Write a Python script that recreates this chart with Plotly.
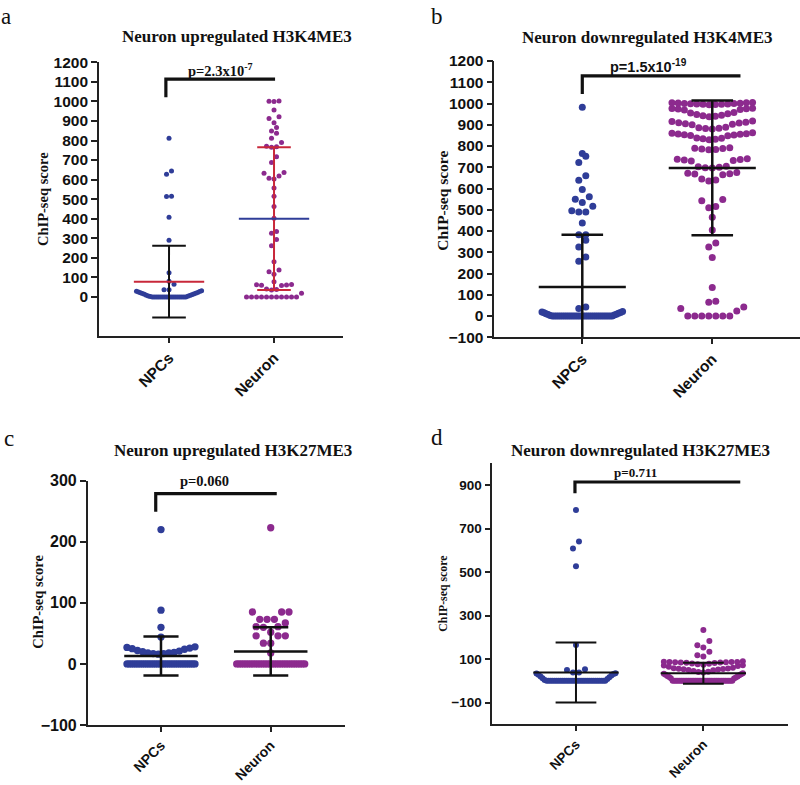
import plotly.graph_objects as go

FIG_W, FIG_H = 800, 785

# ---------------- data ----------------
categories = ["NPCs", "Neuron"]

a_npcs = [811, 644, 627, 515, 513, 407, 290, 124, 80, 65, 36, 36,
          0, 0, 0, 0, 0, 0, 0, 0, 0, 0, 0, 0, 0, 0, 0, 0, 0, 0,
          2, 3, 5, 7, 9, 11, 13, 15, 17, 19, 21, 23, 25, 27, 29, 31]
a_neuron = [1002, 1001, 1000, 956, 921, 913, 891, 866, 849, 837, 811, 790,
            770, 768, 766, 717, 688, 636, 632, 619, 607, 603, 557, 515, 463,
            402, 335, 326, 294, 262, 180, 138, 129, 116, 78, 64, 62, 61, 60,
            58, 40, 38, 35, 19, 0, 0, 0, 0, 0, 0, 0, 0, 0, 0, 0]
a_means = [78, 400]
a_sds = [184, 365]

b_npcs = [982, 765, 752, 722, 660, 639, 595, 561, 550, 534, 517, 495, 490,
          490, 438, 383, 383, 357, 325, 278, 258, 42, 36,
          0, 0, 0, 0, 0, 0, 0, 0, 0, 0, 0, 0, 0, 0, 0, 0, 0, 0, 0, 0,
          0, 0, 0, 0, 0, 0, 0, 0, 0, 0,
          3, 5, 7, 9, 11, 13, 15, 17, 19, 21]
b_neuron = [1005, 1004, 1003, 1002, 1001, 1000, 1000, 999, 998, 998, 997, 996, 995, 994,
            978, 976, 975, 974, 972, 970,
            958, 955, 952, 948, 945, 942, 940, 938,
            918, 915, 912, 910, 908, 905, 902, 900,
            888, 886, 884, 882, 880,
            862, 860, 858, 856, 855, 853, 852, 850, 848,
            838, 836, 834, 832, 830,
            792, 790, 788, 786, 784, 782,
            740, 738, 736, 734, 732, 730,
            705, 703, 700, 698, 696,
            675, 672, 670, 668, 665,
            645, 640, 635,
            548, 542, 515, 510, 465, 405, 344, 325, 275, 134, 70, 65, 42, 36, 24,
            0, 0, 0, 0, 0, 0, 0]
b_means = [137, 697]
b_sds = [246, 317]

c_npcs = [220, 88, 60, 44, 28, 27, 26, 25, 24, 22, 21, 20, 19, 18, 18, 17, 17, 16,
          0, 0, 0, 0, 0, 0, 0, 0, 0, 0, 0, 0, 0, 0, 0, 0,
          0, 0, 0, 0, 0, 0, 0, 0, 0, 0, 0, 0, 0, 0, 0, 0]
c_neuron = [223, 85, 85, 85, 73, 73, 73, 67, 61, 61, 60, 52, 46, 46, 46, 34, 34, 18,
            0, 0, 0, 0, 0, 0, 0, 0, 0, 0, 0, 0, 0, 0, 0,
            0, 0, 0, 0, 0, 0, 0, 0, 0, 0, 0, 0, 0, 0, 0]
c_means = [13, 20.5]
c_sds = [32, 39.5]

d_npcs = [785, 640, 608, 527, 165, 53, 50, 38, 38,
          0, 0, 0, 0, 0, 0, 0, 0, 0, 0, 0, 0, 0, 0, 0,
          0, 0, 0, 0, 0, 0, 0, 0, 0, 0, 0, 0, 0, 0, 0,
          4, 8, 12, 16, 20, 24, 28, 31, 33, 35]
d_neuron = [234, 183, 163, 153, 134, 118, 112, 90, 88, 87, 86, 86, 85, 85, 84, 84,
            83, 82, 80, 78, 76, 74, 72, 70, 68, 65, 60, 58, 56, 55, 54, 53, 52, 50,
            48, 45, 42, 40, 38, 35, 32, 30, 28, 25, 22, 20, 18, 15, 12, 10,
            0, 0, 0, 0, 0, 0, 0, 0, 0, 0, 0, 0, 0, 0, 0, 0, 0, 0,
            0, 0, 0, 0, 0, 0, 0, 0, 0, 0, 0, 0, 0, 0, 0, 0, 0]
d_means = [38, 35]
d_sds = [138, 48]

titles = ["Neuron upregulated H3K4ME3", "Neuron downregulated H3K4ME3",
          "Neuron upregulated H3K27ME3", "Neuron downregulated H3K27ME3"]
panel_letters = ["a", "b", "c", "d"]
p_labels = ["p=2.3x10<sup>-7</sup>", "p=1.5x10<sup>-19</sup>", "p=0.060", "p=0.711"]
y_title = "ChIP-seq score"

# bracket: [x_left, x_right, y_top, y_leg_bottom] in data units
brackets = [[-0.03, 1.01, 1114, 1021],
            [0.0, 1.217, 1130, 1045],
            [-0.048, 1.055, 279, 249],
            [-0.008, 1.29, 914, 862]]

a_ticks = list(range(0, 1201, 100))
b_ticks = list(range(-100, 1201, 100))
c_ticks = [-100, 0, 100, 200, 300]
d_ticks = [-100, 100, 300, 500, 700, 900]

# ---------------- style ----------------
BLUE = "#2f3d98"
PURPLE = "#8c2a8e"
RED = "#c8283a"
BLACK = "#111111"
SERIF = "Liberation Serif, Times New Roman, serif"
SANS = "Liberation Sans, Arial, sans-serif"

panels = [
    dict(xpx=(99, 343), ypx=(62.3, 336), xr=(-0.667, 1.657), yr=(-200, 1200),
         ticks=a_ticks, data=(a_npcs, a_neuron), means=a_means, sds=a_sds,
         dot=5.0, binf=(1.3, 1.3), mean_cols=(RED, BLUE), sd_cols=(BLACK, RED), lw=2,
         tickfs=15.5, xtickfs=15.5, title_xy=(237, 37), letter_xy=(6, 17), ytitle_xy=(43, 199),
         ytitle_fs=14.5, p_xy=(220, 70), p_font=SERIF, p_fs=14.5),
    dict(xpx=(494.3, 800), ypx=(61, 337.3), xr=(-0.677, 1.675), yr=(-100, 1200),
         ticks=b_ticks, data=(b_npcs, b_neuron), means=b_means, sds=b_sds,
         dot=7.0, binf=(1.0, 1.35), mean_cols=(BLACK, BLACK), sd_cols=(BLACK, BLACK), lw=2.5,
         tickfs=15.5, xtickfs=15.5, title_xy=(647, 38), letter_xy=(437, 17), ytitle_xy=(442.7, 201),
         ytitle_fs=15.5, p_xy=(648, 66), p_font=SANS, p_fs=14.5),
    dict(xpx=(87.7, 345), ypx=(480.7, 725), xr=(-0.668, 1.677), yr=(-100, 300),
         ticks=c_ticks, data=(c_npcs, c_neuron), means=c_means, sds=c_sds,
         dot=7.3, binf=(1.3, 1.3), mean_cols=(BLACK, BLACK), sd_cols=(BLACK, BLACK), lw=2.5,
         tickfs=16, xtickfs=14, title_xy=(233, 450), letter_xy=(9, 438), ytitle_xy=(37.7, 602),
         ytitle_fs=14.5, p_xy=(205, 481), p_font=SERIF, p_fs=14.5),
    dict(xpx=(492.3, 788.3), ypx=(463.3, 724.3), xr=(-0.657, 1.667), yr=(-200, 1000),
         ticks=d_ticks, data=(d_npcs, d_neuron), means=d_means, sds=d_sds,
         dot=6.0, binf=(1.3, 1.3), mean_cols=(BLACK, BLACK), sd_cols=(BLACK, BLACK), lw=2,
         tickfs=13.5, xtickfs=13.5, title_xy=(640, 450), letter_xy=(437, 437), ytitle_xy=(442.7, 594),
         ytitle_fs=11.8, p_xy=(635, 472), p_font=SERIF, p_fs=13),
]

HALF_W = 0.31      # max half-width of a row of dots (x units)
MEAN_HW = 0.335    # half-width of mean line
CAP_HW = 0.16      # half-width of SD caps


def swarm(values, center, dot_px, ppx, ppy, binf):
    """GraphPad-like scatter: bin values by symbol height, spread each bin,
    lowest values of a bin closest to the centre."""
    vals = sorted(values)
    h = binf * dot_px / ppy
    bins, cur, start = [], [vals[0]], vals[0]
    for v in vals[1:]:
        if v - start < h:
            cur.append(v)
        else:
            bins.append(cur)
            cur, start = [v], v
    bins.append(cur)
    xs, ys = [], []
    for b in bins:
        n = len(b)
        sp = dot_px / ppx
        if n > 1 and (n - 1) * sp > 2 * HALF_W:
            sp = 2 * HALF_W / (n - 1)
        slots = [(i - (n - 1) / 2) * sp for i in range(n)]
        order = sorted(range(n), key=lambda i: (round(abs(slots[i]), 9), slots[i]))
        for k, i in enumerate(order):
            xs.append(center + slots[i])
            ys.append(b[k])
    return xs, ys


def px2x(px):
    return px / FIG_W


def px2y(py):
    return 1 - py / FIG_H


fig = go.Figure()
layout = dict(width=FIG_W, height=FIG_H, margin=dict(l=0, r=0, t=0, b=0, autoexpand=False),
              paper_bgcolor="white", plot_bgcolor="white", showlegend=False)
annotations, shapes = [], []

for k, p in enumerate(panels):
    sfx = "" if k == 0 else str(k + 1)
    xa, ya = "x" + sfx, "y" + sfx
    ppx = (p["xpx"][1] - p["xpx"][0]) / (p["xr"][1] - p["xr"][0])
    ppy = (p["ypx"][1] - p["ypx"][0]) / (p["yr"][1] - p["yr"][0])

    layout["xaxis" + sfx] = dict(
        domain=[px2x(p["xpx"][0]), px2x(p["xpx"][1])], range=list(p["xr"]),
        anchor=ya, tickvals=[0, 1], ticktext=categories, tickangle=-45, automargin=False,
        showline=True, linecolor="#222", linewidth=1.6, ticks="outside", ticklen=5,
        tickwidth=1.6, tickcolor="#222", showgrid=False, zeroline=False,
        tickfont=dict(family=SANS, size=p["xtickfs"], color=BLACK, weight="bold"))
    layout["yaxis" + sfx] = dict(
        domain=[px2y(p["ypx"][1]), px2y(p["ypx"][0])], range=list(p["yr"]),
        anchor=xa, tickvals=p["ticks"], showline=True, linecolor="#222", linewidth=1.6,
        ticks="outside", ticklen=6, tickwidth=1.6, tickcolor="#222", automargin=False,
        showgrid=False, zeroline=False,
        tickfont=dict(family=SANS, size=p["tickfs"], color=BLACK, weight="bold"))

    colors = (BLUE, PURPLE)
    for g in range(2):
        xs, ys = swarm(p["data"][g], g, p["dot"], ppx, ppy, p["binf"][g])
        fig.add_trace(go.Scatter(x=xs, y=ys, mode="markers", xaxis=xa, yaxis=ya,
                                 marker=dict(size=p["dot"], color=colors[g], line=dict(width=0)),
                                 hoverinfo="skip"))
    for g in range(2):
        m, s = p["means"][g], p["sds"][g]
        fig.add_trace(go.Scatter(
            x=[g, g, None, g - CAP_HW, g + CAP_HW, None, g - CAP_HW, g + CAP_HW],
            y=[m - s, m + s, None, m + s, m + s, None, m - s, m - s],
            mode="lines", xaxis=xa, yaxis=ya,
            line=dict(color=p["sd_cols"][g], width=p["lw"]), hoverinfo="skip"))
        fig.add_trace(go.Scatter(
            x=[g - MEAN_HW, g + MEAN_HW], y=[m, m], mode="lines", xaxis=xa, yaxis=ya,
            line=dict(color=p["mean_cols"][g], width=p["lw"]), hoverinfo="skip"))

    bx0, bx1, byt, byb = brackets[k]
    shapes.append(dict(type="path", xref=xa, yref=ya,
                       path=f"M {bx0},{byb} L {bx0},{byt} L {bx1},{byt}",
                       line=dict(color=BLACK, width=3.2)))

    annotations.append(dict(text=titles[k], x=px2x(p["title_xy"][0]), y=px2y(p["title_xy"][1]),
                            xref="paper", yref="paper", showarrow=False,
                            xanchor="center", yanchor="middle",
                            font=dict(family=SERIF, size=17, color=BLACK, weight="bold")))
    annotations.append(dict(text=panel_letters[k], x=px2x(p["letter_xy"][0]), y=px2y(p["letter_xy"][1]),
                            xref="paper", yref="paper", showarrow=False,
                            xanchor="center", yanchor="middle",
                            font=dict(family=SERIF, size=23, color=BLACK)))
    annotations.append(dict(text=y_title, x=px2x(p["ytitle_xy"][0]), y=px2y(p["ytitle_xy"][1]),
                            xref="paper", yref="paper", showarrow=False, textangle=-90,
                            xanchor="center", yanchor="middle",
                            font=dict(family=SERIF, size=p["ytitle_fs"], color=BLACK, weight="bold")))
    annotations.append(dict(text=p_labels[k], x=px2x(p["p_xy"][0]), y=px2y(p["p_xy"][1]),
                            xref="paper", yref="paper", showarrow=False,
                            xanchor="center", yanchor="middle",
                            font=dict(family=p["p_font"], size=p["p_fs"], color=BLACK, weight="bold")))

layout["annotations"] = annotations
layout["shapes"] = shapes
fig.update_layout(**layout)
fig.write_html("out.html", config={"displayModeBar": False},
               post_script="document.body.style.margin='0';document.body.style.overflow='hidden';")
